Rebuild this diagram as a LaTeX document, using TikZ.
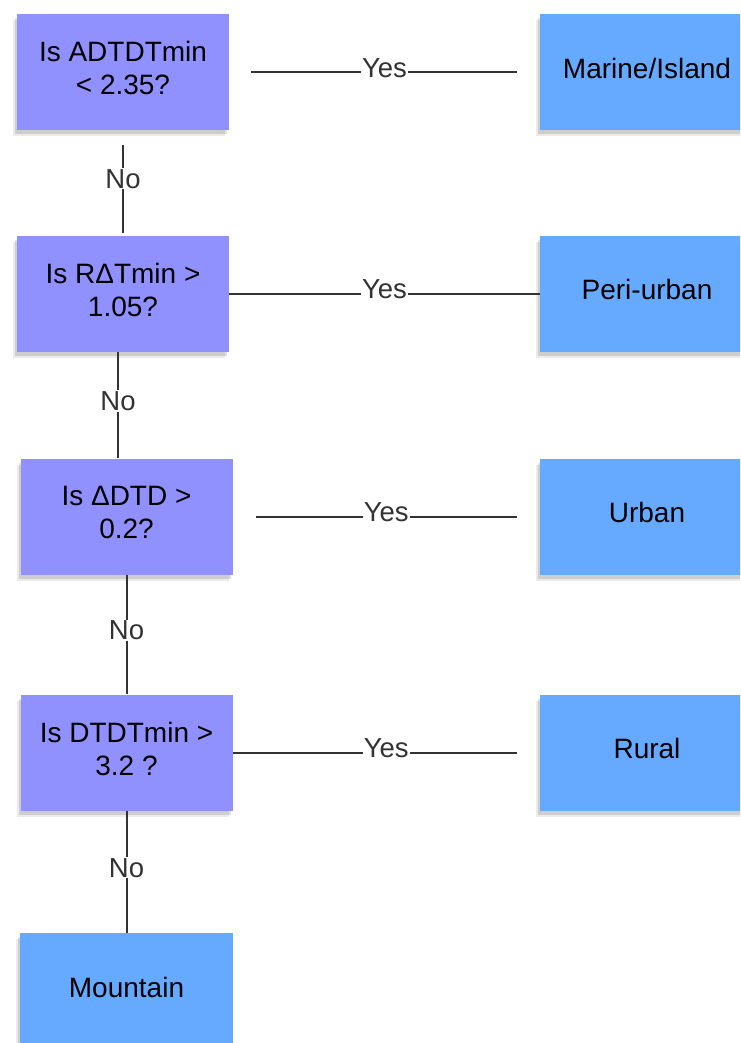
\documentclass[tikz,border=0pt]{standalone}
\usepackage{fontspec}
\setmainfont{Liberation Sans}
\usetikzlibrary{shadows}
\definecolor{qfill}{RGB}{144,144,255}
\definecolor{rfill}{RGB}{102,170,255}
\definecolor{linegray}{RGB}{51,51,51}

\begin{document}
\begin{tikzpicture}[x=1pt, y=-1pt,
  box/.style={minimum height=116pt, inner sep=0pt, align=center,
    font=\fontsize{28}{33}\selectfont,
    execute at end node={\rule[-8pt]{0pt}{8pt}},
    general shadow={shadow xshift=-4pt, shadow yshift=-6pt, opacity=0.08, fill=black},
    drop shadow={shadow xshift=-2pt, shadow yshift=-4pt, opacity=0.12, fill=black}},
  question/.style={box, fill=qfill, minimum width=212pt},
  answer/.style={box, fill=rfill, minimum width=214pt},
  link/.style={draw=linegray, line width=2pt},
  lbl/.style={fill=white, inner sep=1pt, yshift=4pt, text=linegray,
    font=\fontsize{27.5}{30}\selectfont}]
\useasboundingbox (0,0) rectangle (740,1043);
\clip (0,0) rectangle (740,1043);
\fill[white] (0,0) rectangle (740,1043);

% questions on the left, classes on the right
\node[question] (q1) at (123,72) {Is ADTDTmin\\< 2.35?};
\node[answer] (r1) at (647,72) {Marine/Island};
\node[question] (q2) at (123,293.5) {Is RΔTmin >\\1.05?};
\node[answer] (r2) at (647,293.5) {Peri-urban};
\node[question] (q3) at (126.5,516.5) {Is ΔDTD >\\0.2?};
\node[answer] (r3) at (647,516.5) {Urban};
\node[question] (q4) at (126.5,752.5) {Is DTDTmin >\\3.2 ?};
\node[answer] (r4) at (647,752.5) {Rural};
\node[answer, minimum width=213pt] (m) at (126.5,991) {Mountain};

% yes branches
\foreach \i/\a/\b in {1/22/23, 2/0/0, 3/23/23, 4/0/23}
  {\draw[link, shorten <=\a pt, shorten >=\b pt] (q\i) -- node[lbl] {Yes} (r\i);}

% no branches
\draw[link, shorten <=15pt, shorten >=2pt] (q1) -- node[lbl] {No} (q2);
\draw[link] ([xshift=-5pt]q2.south) -- node[lbl] {No} ([xshift=-8.5pt]q3.north);
\draw[link] (q3) -- node[lbl] {No} (q4);
\draw[link] (q4) -- node[lbl] {No} (m);
\end{tikzpicture}
\end{document}
